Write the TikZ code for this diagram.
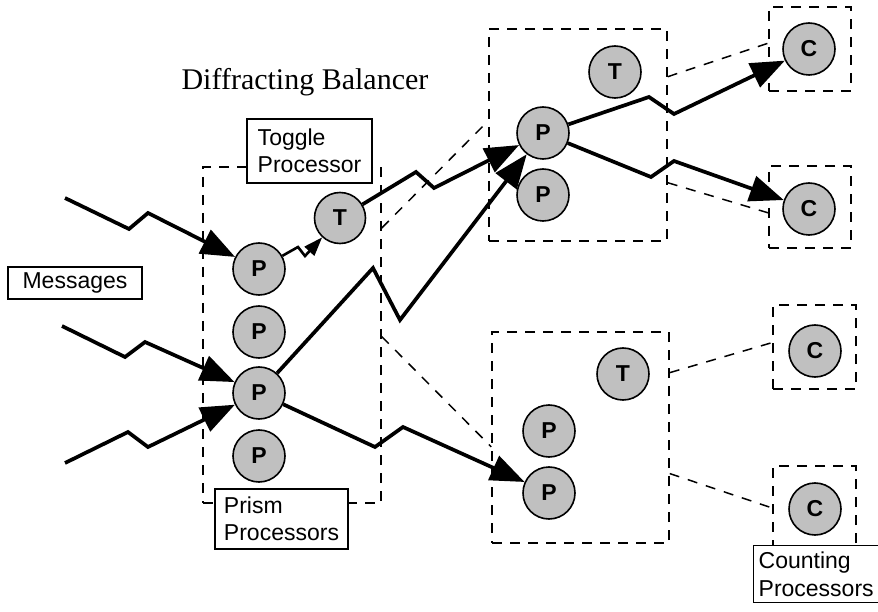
\documentclass[tikz,border=0pt]{standalone}
\usepackage{fontspec}
\setmainfont{Liberation Serif}
\setsansfont{Liberation Sans}
\usepackage{tikz}
\usetikzlibrary{arrows.meta,positioning}
\definecolor{ProcGray}{RGB}{192,192,192}

\begin{document}
\begin{tikzpicture}[x=1pt,y=-1pt,
  proc/.style={circle,draw,line width=1.6pt,fill=ProcGray,minimum size=52pt,inner sep=0pt,
    font=\sffamily\bfseries\fontsize{23}{25}\selectfont},
  grp/.style={draw,dash pattern=on 10pt off 8pt,line width=1.5pt},
  lbl/.style={draw,fill=white,line width=1.3pt,align=left,
    font=\sffamily\fontsize{23}{27.5}\selectfont},
  flow/.style={line width=3.7pt,line join=miter,-{Triangle[length=34pt,width=26pt]}},
  link/.style={dash pattern=on 10pt off 9pt,line width=1.5pt}]
  \useasboundingbox (0,0) rectangle (878,612);

  % processor groups
  \node[grp,minimum width=178pt,minimum height=336pt] (prism) at (292,335) {};
  \node[grp,minimum width=178pt,minimum height=212pt] (upper) at (578,135) {};
  \node[grp,minimum width=177pt,minimum height=211pt] (lower) at (580.5,437.5) {};
  \node[grp,minimum width=82pt,minimum height=84pt] (cbox1) at (810,49) {};
  \node[grp,minimum width=82pt,minimum height=82pt] (cbox2) at (810,207) {};
  \node[grp,minimum width=83pt,minimum height=84pt] (cbox3) at (814.5,347) {};
  \node[grp,minimum width=83pt,minimum height=84pt] (cbox4) at (814.5,508) {};

  % links between groups
  \draw[link] (prism.50) -- (upper.171);
  \draw[link] (prism.-1) -- (lower.186);
  \draw[link] (upper.33) -- (cbox1.172);
  \draw[link] (upper.-28) -- (cbox2.188);
  \draw[link] (lower.36) -- (cbox3.174);
  \draw[link] (lower.-22) -- (cbox4.west);

  % prisms and toggles
  \node[proc] (p1) at (259,269) {P};
  \node[proc] (p2) at (259,332) {P};
  \node[proc] (p3) at (259,393) {P};
  \node[proc] (p4) at (259,456) {P};
  \node[proc,minimum size=51pt] (t1) at (340,218) {T};
  \node[proc] (pu1) at (543,133) {P};
  \node[proc] (pu2) at (543,195) {P};
  \node[proc] (tu) at (615,72) {T};
  \node[proc] (tl) at (623,374) {T};
  \node[proc] (pl1) at (549,431) {P};
  \node[proc] (pl2) at (549,493) {P};
  \node[proc] (c1) at (809,49) {C};
  \node[proc] (c2) at (809,209) {C};
  \node[proc] (c3) at (815,351) {C};
  \node[proc] (c4) at (815,509) {C};

  % labels
  \node[font=\fontsize{30}{33}\selectfont,anchor=base] (title) at (305,90) {Diffracting Balancer};
  \node[lbl,minimum width=125pt,minimum height=64pt] (toggle) at (309.5,151) {Toggle\\Processor};
  \node[lbl,minimum width=133pt,minimum height=60pt] (prismlbl) at (281.5,519) {Prism\\Processors};
  \node[lbl,minimum width=134pt,minimum height=32pt] (msgs) at (75,283) {Messages};
  \node[lbl,minimum height=57pt,inner xsep=5pt,anchor=north west] (count) at (753,545) {Counting\\Processors};

  % incoming messages
  \coordinate (m1) at (65,198);
  \coordinate (m2) at (62,326);
  \coordinate (m3) at (65,463);
  \draw[flow] (m1) -- (129,229) -- (148,213) -- (p1);
  \draw[flow] (m2) -- (125,357) -- (145,342) -- (p3);
  \draw[flow] (m3) -- (128,432) -- (148,447) -- (p3);

  % traffic through the balancer
  \draw[line width=2.6pt,-{Triangle[length=19pt,width=13pt]}] (p1) -- (298,247) -- (305,256) -- (t1);
  \draw[flow] (t1) -- (416,172) -- (434,188) -- (pu1);
  \draw[flow] (p3) -- (373,268) -- (400,320) -- (pu1);
  \draw[flow] (p3) -- (375,447) -- (403,427) -- (pl2);
  \draw[flow] (pu1) -- (649,97) -- (674,114) -- (c1);
  \draw[flow] (pu1) -- (651,177) -- (674,161) -- (c2);
\end{tikzpicture}
\end{document}
